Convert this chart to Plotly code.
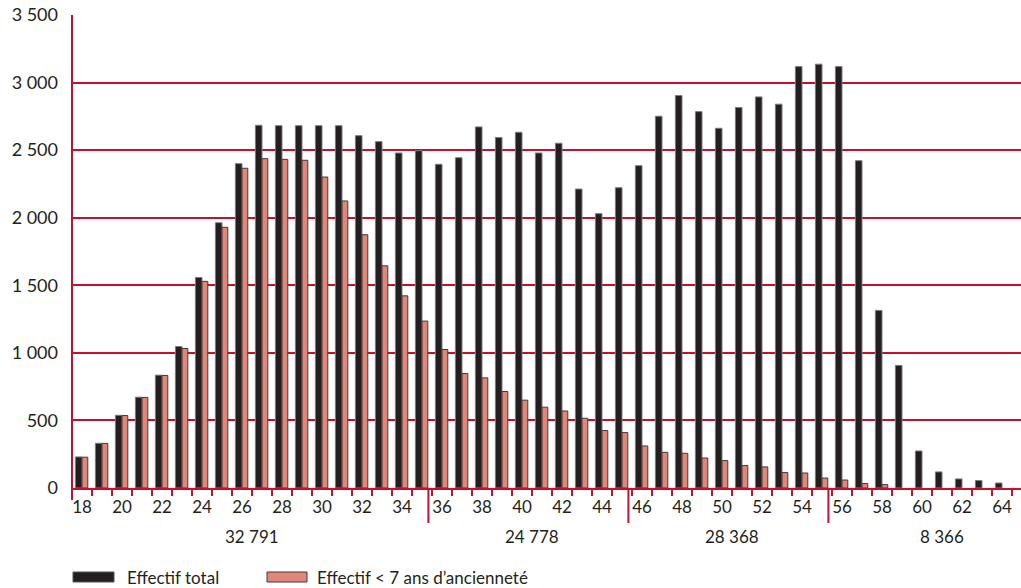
import plotly.graph_objects as go

# ---- data ----
ages = list(range(18, 65))
effectif_total = [230, 331, 538, 672, 835, 1047, 1558, 1963, 2400, 2684,
                  2681, 2681, 2681, 2681, 2607, 2563, 2479, 2496,
                  2395, 2444, 2672, 2593, 2632, 2479, 2551, 2212, 2030, 2222,
                  2385, 2751, 2904, 2785, 2662, 2815, 2894, 2840, 3118, 3136,
                  3118, 2422, 1314, 907, 274, 119, 67, 55, 37]
effectif_moins7 = [228, 330, 536, 670, 833, 1032, 1529, 1929, 2366, 2437,
                   2432, 2425, 2301, 2124, 1874, 1644, 1422, 1235,
                   1025, 847, 815, 714, 650, 598, 570, 516, 425, 410,
                   311, 264, 257, 222, 203, 166, 156, 114, 111, 74,
                   59, 33, 25, None, None, None, None, None, None]
y_tickvals = [0, 500, 1000, 1500, 2000, 2500, 3000, 3500]
y_ticktext = ["0", "500", "1 000", "1 500", "2 000", "2 500", "3 000", "3 500"]
x_labels = list(range(18, 65, 2))
group_bounds = [35.5, 45.5, 55.5]
group_labels = ["32 791", "24 778", "28 368", "8 366"]
group_label_x = [26.5, 40.5, 50.5, 61]
legend_names = ["Effectif total", "Effectif < 7 ans d’ancienneté"]

RED = "#c8102e"
BLACK = "#231f20"
SALMON = "#e0877a"
FONT = "Lato"
TXT = "#231f20"

# plot area geometry (pixels)
W, H = 1021, 588
ML, MR, MT, MB = 72, 0, 15, 100
PW, PH = W - ML - MR, H - MT - MB


def px_x(p):
    return (p - ML) / PW


def px_y(p):
    return (H - MB - p) / PH


fig = go.Figure()
fig.add_trace(go.Bar(x=ages, y=effectif_total, name=legend_names[0],
                     offset=-0.33, width=0.33,
                     marker=dict(color=BLACK, line=dict(color="#7a7a7a", width=1)),
                     showlegend=False))
fig.add_trace(go.Bar(x=ages, y=effectif_moins7, name=legend_names[1],
                     offset=0.0, width=0.29,
                     marker=dict(color=SALMON, line=dict(color="#3a3a3a", width=1)),
                     showlegend=False))

x_min = 17.5
x_max = 17.5 + PW / 20.0

shapes = []
# y-axis line extended below zero
shapes.append(dict(type="line", xref="paper", yref="paper", x0=0, x1=0,
                   y0=px_y(500), y1=1, line=dict(color=RED, width=2), layer="above"))
# group separators
for b in group_bounds:
    shapes.append(dict(type="line", xref="x", yref="paper", x0=b - 0.18, x1=b - 0.18,
                       y0=0, y1=px_y(523), line=dict(color=RED, width=2), layer="above"))
# legend boxes
shapes.append(dict(type="rect", xref="paper", yref="paper",
                   x0=px_x(73), x1=px_x(114), y0=px_y(582), y1=px_y(572),
                   fillcolor=BLACK, line=dict(color="#555555", width=1)))
shapes.append(dict(type="rect", xref="paper", yref="paper",
                   x0=px_x(267), x1=px_x(307), y0=px_y(582), y1=px_y(572),
                   fillcolor=SALMON, line=dict(color="#3a3a3a", width=1)))

annotations = []
for lbl, gx in zip(group_labels, group_label_x):
    annotations.append(dict(x=gx, y=px_y(536), xref="x", yref="paper", text=lbl,
                            showarrow=False, font=dict(family=FONT, size=17, color=TXT),
                            xanchor="center", yanchor="middle"))
annotations.append(dict(x=px_x(125), y=px_y(577), xref="paper", yref="paper",
                        text=legend_names[0], showarrow=False, xanchor="left", yanchor="middle",
                        font=dict(family=FONT, size=17, color=TXT)))
annotations.append(dict(x=px_x(315), y=px_y(577), xref="paper", yref="paper",
                        text=legend_names[1], showarrow=False, xanchor="left", yanchor="middle",
                        font=dict(family=FONT, size=17, color=TXT)))

fig.update_layout(
    width=W, height=H,
    margin=dict(l=ML, r=MR, t=MT, b=MB, pad=0),
    paper_bgcolor="white", plot_bgcolor="white",
    barmode="overlay",
    font=dict(family=FONT, size=17, color=TXT),
    shapes=shapes, annotations=annotations,
    xaxis=dict(range=[x_min, x_max], tickvals=x_labels, ticktext=[str(v) for v in x_labels],
               ticks="", showgrid=False, zeroline=False,
               showline=True, linecolor=RED, linewidth=2,
               tickfont=dict(family=FONT, size=17, color=TXT),
               ticklabelstandoff=3,
               minor=dict(tickvals=[a + 0.5 for a in ages],
                          ticks="outside", ticklen=6, tickwidth=2, tickcolor=RED,
                          showgrid=False)),
    yaxis=dict(range=[0, 3500], tickvals=y_tickvals, ticktext=y_ticktext,
               showgrid=True, gridcolor=RED, gridwidth=2,
               zeroline=False, showline=False, ticks="",
               tickfont=dict(family=FONT, size=18, color=TXT),
               ticklabelstandoff=13),
)

fig.write_html("out.html", config={"displayModeBar": False},
               post_script="document.body.style.margin='0';document.body.style.padding='0';")
